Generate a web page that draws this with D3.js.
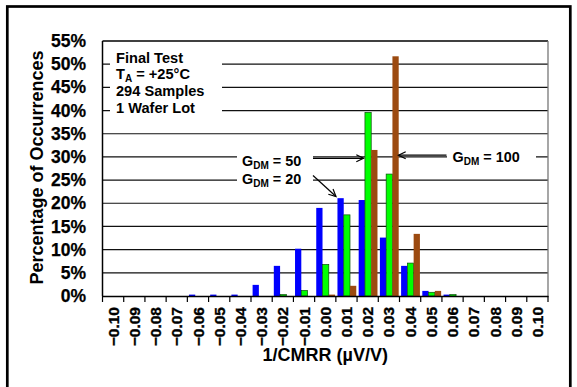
<!DOCTYPE html>
<html>
<head>
<meta charset="utf-8">
<script src="https://cdn.jsdelivr.net/npm/d3@7"></script>
<style>
  body { margin: 0; background: #fff; }
  text { font-family: "Liberation Sans", Arial, sans-serif; font-weight: bold; fill: #000; }
</style>
</head>
<body>
<script>
// histogram bins, 1/CMRR in uV/V
const bins = [-0.10, -0.09, -0.08, -0.07, -0.06, -0.05, -0.04, -0.03, -0.02, -0.01,
              0.00, 0.01, 0.02, 0.03, 0.04, 0.05, 0.06, 0.07, 0.08, 0.09, 0.10];
// percentage of occurrences for each gain
const gdm20  = [0, 0, 0, 0, 0.3, 0.3, 0.3, 2.4, 6.5, 10.2, 19.0, 21.1, 20.7, 12.6, 6.5, 1.1, 0.3, 0, 0, 0, 0];
const gdm50  = [0, 0, 0, 0, 0, 0, 0, 0, 0.3, 1.2, 6.8, 17.5, 39.6, 26.3, 7.1, 0.8, 0.3, 0, 0, 0, 0];
const gdm100 = [0, 0, 0, 0, 0, 0, 0, 0, 0, 0, 0.3, 2.2, 31.5, 51.7, 13.4, 1.1, 0, 0, 0, 0, 0];
const yTicks = [0, 5, 10, 15, 20, 25, 30, 35, 40, 45, 50, 55];
const seriesNames = ["g20", "g50", "g100"];
const seriesColors = { g20: "#0000ff", g50: "#00ff00", g100: "#9c4a10" };

const W = 577, H = 387;
const plotL = 102.5, plotR = 548, plotT = 41, plotB = 296;

const svg = d3.select("body").append("svg").attr("width", W).attr("height", H);

// outer frame
svg.append("rect").attr("x", 7.3).attr("y", 6.5).attr("width", 563).attr("height", 420)
    .attr("fill", "none").attr("stroke", "#000").attr("stroke-width", 2.7);

const fmt = d3.format(".2f");
const x0 = d3.scaleBand().domain(bins.map(fmt)).range([plotL, plotR]).padding(0);
const x1 = d3.scaleBand().domain(seriesNames).range([1.6, x0.bandwidth() - 0.8]).padding(0);
const y = d3.scaleLinear().domain([0, 55]).range([plotB, plotT]);

//gridlines
svg.append("g").selectAll("line").data(yTicks.filter(d => d > 0 && d < 55)).join("line")
    .attr("x1", plotL).attr("x2", plotR)
    .attr("y1", d => y(d)).attr("y2", d => y(d))
    .attr("stroke", "#111").attr("stroke-width", 1.2);

// white label backgrounds that hide the gridlines
svg.append("rect").attr("x", 110).attr("y", 46).attr("width", 112).attr("height", 74).attr("fill", "#fff");
svg.append("rect").attr("x", 237).attr("y", 146).attr("width", 76).attr("height", 44).attr("fill", "#fff");
svg.append("rect").attr("x", 447).attr("y", 146).attr("width", 89).attr("height", 22).attr("fill", "#fff");

// bars
const rows = bins.map((b, i) => ({ bin: fmt(b), g20: gdm20[i], g50: gdm50[i], g100: gdm100[i] }));
const groups = svg.append("g").selectAll("g").data(rows).join("g")
    .attr("transform", d => "translate(" + x0(d.bin) + ",0)");
groups.selectAll("rect")
    .data(d => seriesNames.map(k => ({ key: k, value: d[k] })).filter(e => e.value > 0))
    .join("rect")
    .attr("x", d => x1(d.key))
    .attr("width", x1.bandwidth())
    .attr("y", d => y(d.value))
    .attr("height", d => plotB - y(d.value))
    .attr("fill", d => seriesColors[d.key])
    .attr("stroke", d => d.key === "g50" ? "#0b4d0b" : "none")
    .attr("stroke-width", 0.7);

// plot frame
svg.append("line").attr("x1", plotL).attr("x2", plotR).attr("y1", plotT).attr("y2", plotT)
    .attr("stroke", "#000").attr("stroke-width", 1.3);
svg.append("line").attr("x1", plotR).attr("x2", plotR).attr("y1", plotT).attr("y2", plotB)
    .attr("stroke", "#777").attr("stroke-width", 1.3);
svg.append("line").attr("x1", plotL).attr("x2", plotL).attr("y1", plotT).attr("y2", plotB)
    .attr("stroke", "#000").attr("stroke-width", 1.5);

// y axis labels
const yAxis = svg.append("g").attr("transform", "translate(" + plotL + ",0)")
    .call(d3.axisLeft(y).tickValues(yTicks).tickFormat(d => d + "%").tickSize(0).tickPadding(16.5));
yAxis.select(".domain").remove();
yAxis.selectAll("text").attr("font-size", 17.5).attr("font-family", null)
    .attr("stroke", "#000").attr("stroke-width", 0.25);

// x axis
const xAxis = svg.append("g").attr("transform", "translate(0," + plotB + ")")
    .call(d3.axisBottom(x0).tickSize(0).tickPadding(0));
xAxis.select(".domain").attr("stroke", "#000").attr("stroke-width", 1.5);
xAxis.selectAll("text")
    .attr("font-size", 15.5).attr("font-family", null)
    .attr("stroke", "#000").attr("stroke-width", 0.35)
    .attr("text-anchor", "end")
    .attr("transform", "rotate(-90)")
    .attr("x", -11).attr("y", 0).attr("dy", "0.36em");

// category boundary ticks
const edges = x0.domain().map(d => x0(d)).concat([plotR]);
svg.append("g").selectAll("line").data(edges).join("line")
    .attr("x1", d => d).attr("x2", d => d)
    .attr("y1", plotB).attr("y2", plotB + 6)
    .attr("stroke", "#000").attr("stroke-width", 1.2);

// axis titles
svg.append("text").attr("x", (plotL + plotR) / 2).attr("y", 361)
    .attr("text-anchor", "middle").attr("font-size", 18).text("1/CMRR (µV/V)");
svg.append("text").attr("transform", "translate(43,167.5) rotate(-90)")
    .attr("text-anchor", "middle").attr("font-size", 18).text("Percentage of Occurrences");

// info box
const info = svg.append("text").attr("font-size", 14.6);
info.append("tspan").attr("x", 116).attr("y", 62.5).text("Final Test");
info.append("tspan").attr("x", 116).attr("y", 79.3).text("T");
info.append("tspan").attr("font-size", 10).attr("dy", 3).text("A");
info.append("tspan").attr("dy", -3).text(" = +25°C");
info.append("tspan").attr("x", 116).attr("y", 96.2).text("294 Samples");
info.append("tspan").attr("x", 116).attr("y", 113).text("1 Wafer Lot");

// gain labels
function gainLabel(xPos, yPos, gain) {
    const t = svg.append("text").attr("x", xPos).attr("y", yPos).attr("font-size", 14.4);
    t.append("tspan").text("G");
    t.append("tspan").attr("font-size", 10).attr("dy", 3.5).text("DM");
    t.append("tspan").attr("dy", -3.5).text(" = " + gain);
}
gainLabel(242, 165.5, 50);
gainLabel(242, 183.5, 20);
gainLabel(452.5, 161.8, 100);

// arrows
function arrow(xa, ya, xb, yb) {
    const ang = Math.atan2(yb - ya, xb - xa);
    const len = 8, spread = 0.45;
    svg.append("line").attr("x1", xa).attr("y1", ya).attr("x2", xb).attr("y2", yb)
        .attr("stroke", "#000").attr("stroke-width", 1.2);
    const p = d3.path();
    p.moveTo(xb - len * Math.cos(ang - spread), yb - len * Math.sin(ang - spread));
    p.lineTo(xb, yb);
    p.lineTo(xb - len * Math.cos(ang + spread), yb - len * Math.sin(ang + spread));
    svg.append("path").attr("d", p.toString()).attr("fill", "none")
        .attr("stroke", "#000").attr("stroke-width", 1.2);
}
arrow(313, 158.3, 363.5, 158.3);
arrow(313, 175.5, 336, 196.5);
arrow(446.5, 155.2, 398.5, 155.2);
</script>
</body>
</html>
